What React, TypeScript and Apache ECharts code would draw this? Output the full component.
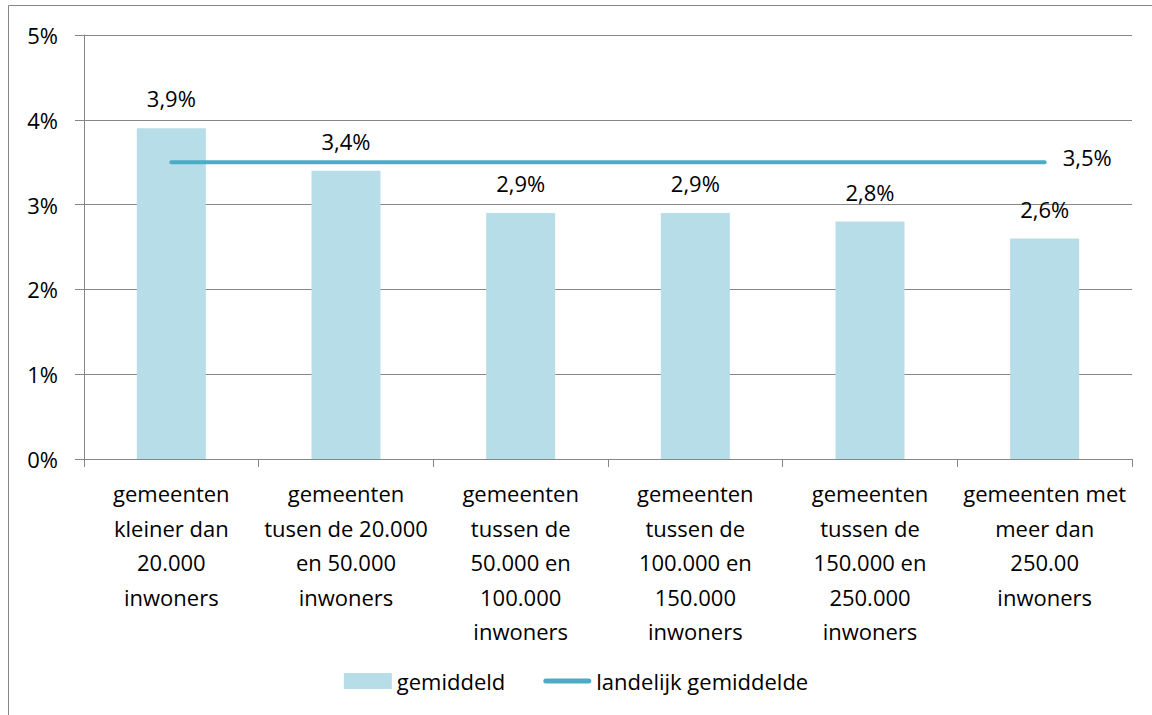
import React, { useEffect, useRef } from "react";
import * as echarts from "echarts";

const categories = [
  "gemeenten\nkleiner dan\n20.000\ninwoners",
  "gemeenten\ntusen de 20.000\nen 50.000\ninwoners",
  "gemeenten\ntussen de\n50.000 en\n100.000\ninwoners",
  "gemeenten\ntussen de\n100.000 en\n150.000\ninwoners",
  "gemeenten\ntussen de\n150.000 en\n250.000\ninwoners",
  "gemeenten met\nmeer dan\n250.00\ninwoners",
];
const gemiddeld = [3.9, 3.4, 2.9, 2.9, 2.8, 2.6];
const landelijk = [3.5, 3.5, 3.5, 3.5, 3.5, 3.5];
const yTicks = { min: 0, max: 5, interval: 1 };

const FONT = "Open Sans";
const FS = 22;

export default function App() {
  const ref = useRef<HTMLDivElement>(null);
  useEffect(() => {
    document.body.style.margin = "0";
    const chart = echarts.init(ref.current!, null, { renderer: "svg" });
    const fmt = (v: number) => v.toFixed(1).replace(".", ",") + "%";
    chart.setOption({
      animation: false,
      backgroundColor: "#ffffff",
      textStyle: { fontFamily: FONT, color: "#000" },
      grid: { left: 84, right: 20, top: 35, bottom: 256, containLabel: false },
      graphic: [
        {
          type: "polyline",
          shape: { points: [[8.5, 715], [8.5, 5.5], [1152, 5.5]] },
          style: { stroke: "#868686", lineWidth: 1, fill: "none" },
          silent: true,
        },
      ],
      legend: {
        left: "center",
        top: 665,
        itemGap: 38,
        itemWidth: 48,
        itemHeight: 16,
        textStyle: { fontFamily: FONT, fontSize: FS, color: "#000" },
        data: [
          { name: "gemiddeld", icon: "rect" },
          {
            name: "landelijk gemiddelde",
            icon: "path://M2.5,0 H45.5 A2.5,2.5 0 0 1 45.5,5 H2.5 A2.5,2.5 0 0 1 2.5,0 Z",
          },
        ],
      },
      xAxis: {
        type: "category",
        data: categories,
        axisLine: { lineStyle: { color: "#868686", width: 1 } },
        axisTick: { show: true, length: 8, lineStyle: { color: "#868686" } },
        axisLabel: {
          interval: 0,
          margin: 17,
          fontFamily: FONT,
          fontSize: FS,
          lineHeight: 34.5,
          color: "#000",
        },
      },
      yAxis: {
        type: "value",
        min: yTicks.min,
        max: yTicks.max,
        interval: yTicks.interval,
        axisLine: { show: true, lineStyle: { color: "#868686", width: 1 } },
        axisTick: { show: true, length: 9, lineStyle: { color: "#868686" } },
        splitLine: { lineStyle: { color: "#868686", width: 1 } },
        axisLabel: {
          formatter: (v: number) => v + "%",
          margin: 26,
          fontFamily: FONT,
          fontSize: FS,
          color: "#000",
        },
      },
      series: [
        {
          name: "gemiddeld",
          type: "bar",
          data: gemiddeld,
          barWidth: 69,
          itemStyle: { color: "#B7DDE8" },
          label: {
            show: true,
            position: "top",
            distance: 19,
            formatter: (p: any) => fmt(p.value),
            fontFamily: FONT,
            fontSize: FS,
            color: "#000",
          },
        },
        {
          name: "landelijk gemiddelde",
          type: "line",
          data: landelijk,
          symbol: "none",
          lineStyle: { color: "#4BACC6", width: 4, cap: "round" },
          itemStyle: { color: "#4BACC6" },
          endLabel: {
            show: true,
            distance: 18,
            offset: [0, -5],
            formatter: (p: any) => fmt(p.value),
            fontFamily: FONT,
            fontSize: FS,
            color: "#000",
          },
        },
      ],
    });
    return () => chart.dispose();
  }, []);
  return <div ref={ref} style={{ width: 1152, height: 715 }} />;
}
